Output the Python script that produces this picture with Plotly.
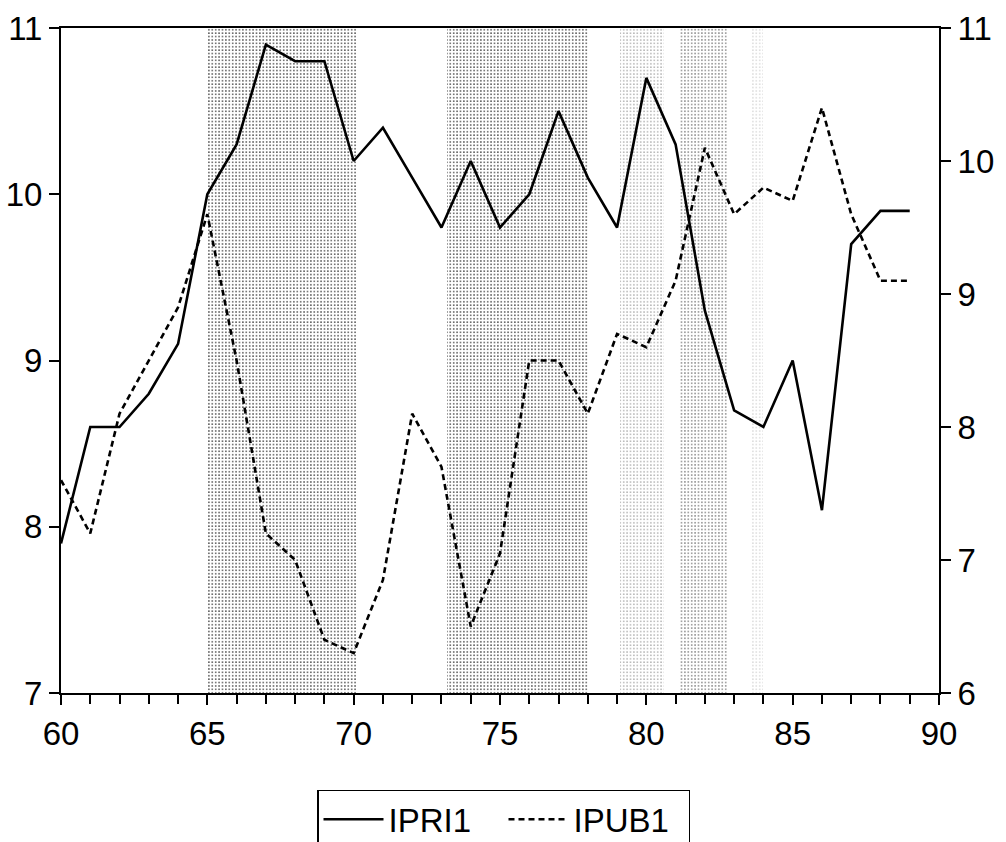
import plotly.graph_objects as go

years = list(range(60, 90))
ipri1 = [7.9, 8.6, 8.6, 8.8, 9.1, 10.0, 10.3, 10.9, 10.8, 10.8,
         10.2, 10.4, 10.1, 9.8, 10.2, 9.8, 10.0, 10.5, 10.1, 9.8,
         10.7, 10.3, 9.3, 8.7, 8.6, 9.0, 8.1, 9.7, 9.9, 9.9]
ipub1 = [7.6, 7.2, 8.1, 8.5, 8.9, 9.6, 8.5, 7.2, 7.0, 6.4,
         6.3, 6.85, 8.1, 7.7, 6.5, 7.05, 8.5, 8.5, 8.1, 8.7,
         8.6, 9.1, 10.1, 9.6, 9.8, 9.7, 10.4, 9.6, 9.1, 9.1]

# shaded periods: start, end, dot density
shade_start = [65.0, 73.2, 79.1, 81.1, 83.6]
shade_end = [70.1, 78.0, 80.6, 82.8, 84.0]
shade_density = [0.15, 0.15, 0.07, 0.09, 0.03]

fig = go.Figure()

for s, e, d in zip(shade_start, shade_end, shade_density):
    fig.add_trace(go.Bar(
        x=[(s + e) / 2], y=[4], base=[7], width=[e - s],
        marker=dict(color="white", line=dict(width=0),
                    pattern=dict(shape=".", fgcolor="black", bgcolor="white",
                                 size=3.4, solidity=d, fillmode="replace")),
        showlegend=False, hoverinfo="skip", yaxis="y"))

fig.add_trace(go.Scatter(x=years, y=ipri1, mode="lines", name="IPRI1",
                         line=dict(color="black", width=2.6), yaxis="y"))
fig.add_trace(go.Scatter(x=years, y=ipub1, mode="lines", name="IPUB1",
                         line=dict(color="black", width=2.6, dash="6px,4px"), yaxis="y2"))

font = dict(family="Liberation Sans, Arial, sans-serif", size=33, color="black")

fig.update_layout(
    width=1006, height=842,
    margin=dict(l=61, r=67, t=28, b=149, autoexpand=False),
    paper_bgcolor="white", plot_bgcolor="white",
    barmode="overlay", bargap=0,
    font=font,
    xaxis=dict(range=[60, 90], dtick=5, tick0=60, ticks="outside", ticklen=10,
               tickwidth=1.5, tickcolor="black", showline=True, linecolor="black",
               linewidth=2, mirror=True, showgrid=False, zeroline=False,
               minor=dict(dtick=1, ticks="outside", ticklen=9, tickwidth=1.5, tickcolor="black"),
               tickfont=font, automargin=False),
    yaxis=dict(range=[7, 11], dtick=1, ticks="outside", ticklen=10, tickwidth=1.5,
               tickcolor="black", showline=True, linecolor="black", linewidth=2,
               showgrid=False, zeroline=False, tickfont=font, automargin=False),
    yaxis2=dict(range=[6, 11], dtick=1, ticks="outside", ticklen=10, tickwidth=1.5,
                tickcolor="black", showline=True, linecolor="black", linewidth=2,
                showgrid=False, zeroline=False, overlaying="y", side="right",
                tickfont=font, automargin=False),
    legend=dict(orientation="h", xref="container", yref="container",
                x=0.5005, xanchor="center", y=0.062, yanchor="top",
                bordercolor="black", borderwidth=1.5, bgcolor="white",
                font=dict(family="Liberation Sans, Arial, sans-serif", size=33, color="black"),
                itemwidth=60, entrywidth=110, entrywidthmode="pixels"),
)

fig.write_html("out.html", config={"displayModeBar": False},
               post_script="document.body.style.margin='0';")
